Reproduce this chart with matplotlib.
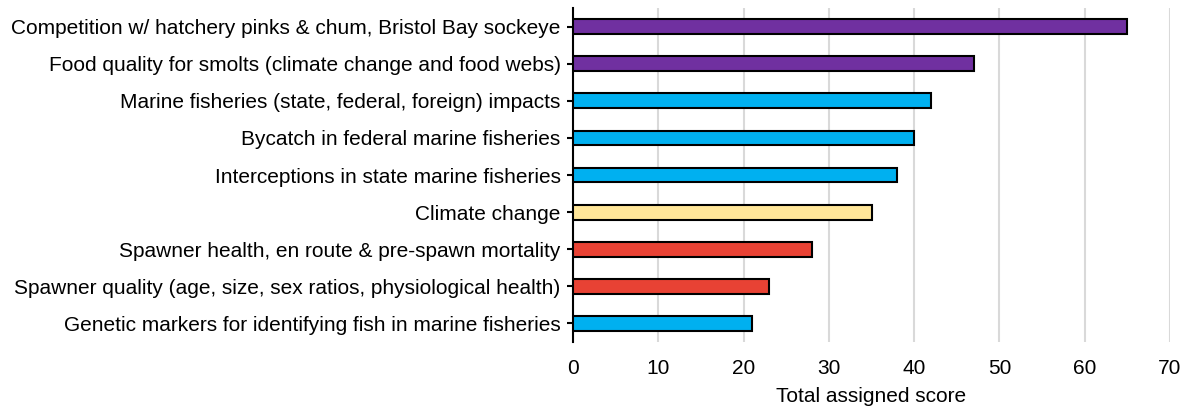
from matplotlib import pyplot as plt

# Данные
labels = [
    "Competition w/ hatchery pinks & chum, Bristol Bay sockeye",
    "Food quality for smolts (climate change and food webs)",
    "Marine fisheries (state, federal, foreign) impacts",
    "Bycatch in federal marine fisheries",
    "Interceptions in state marine fisheries",
    "Climate change",
    "Spawner health, en route & pre-spawn mortality",
    "Spawner quality (age, size, sex ratios, physiological health)",
    "Genetic markers for identifying fish in marine fisheries",
]
scores = [65, 47, 42, 40, 38, 35, 28, 23, 21]
groups = ["purple", "purple", "blue", "blue", "blue", "yellow", "red", "red", "blue"]
x_ticks = [0, 10, 20, 30, 40, 50, 60, 70]

palette = {"purple": "#7030A0", "blue": "#00B0F0", "yellow": "#FFE699", "red": "#E84234"}

plt.rcParams['font.family'] = ['Liberation Sans', 'DejaVu Sans']

fig = plt.figure(figsize=(11.83, 4.08), dpi=100)
ax = fig.add_axes([0.4844, 0.162, 0.5046, 0.818])

y_pos = list(range(len(labels)))
ax.barh(y_pos, scores, height=0.4, color=[palette[g] for g in groups],
        edgecolor='black', linewidth=1.5, zorder=3)

ax.set_yticks(y_pos)
ax.set_yticklabels(labels, fontsize=15)
ax.set_ylim(len(labels) - 0.5, -0.5)

ax.set_xlim(0, 70)
ax.set_xticks(x_ticks)
ax.set_xticklabels([str(t) for t in x_ticks], fontsize=15)
ax.set_xlabel("Total assigned score", fontsize=15, labelpad=7)

# Сетка и оси
ax.grid(axis='x', color='#D9D9D9', linewidth=1.5, zorder=0)
for side in ['top', 'right', 'bottom']:
    ax.spines[side].set_visible(False)
ax.spines['left'].set_linewidth(1.5)
ax.tick_params(axis='x', length=0, pad=12)
ax.tick_params(axis='y', length=4, width=1.5, pad=5)

plt.savefig("out.png")
